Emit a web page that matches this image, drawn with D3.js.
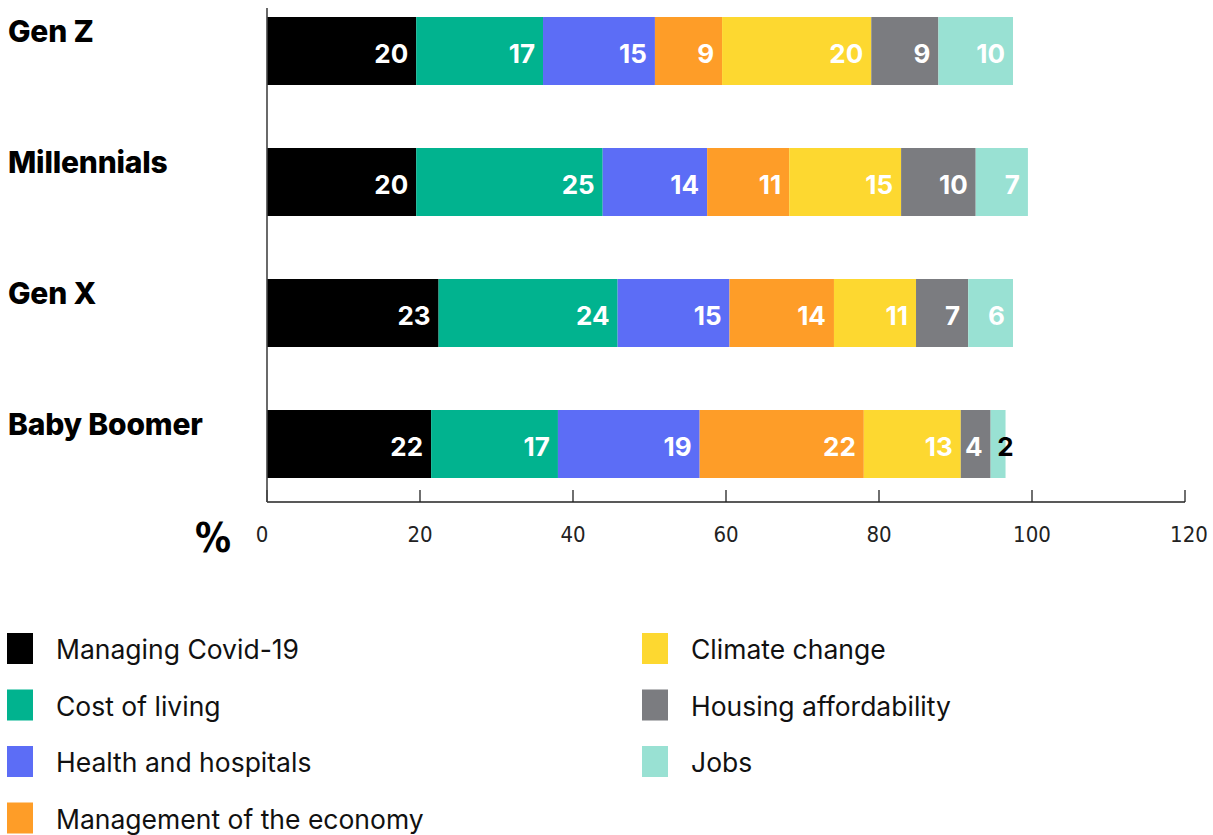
<!DOCTYPE html>
<html><head><meta charset="utf-8">
<script src="https://cdn.jsdelivr.net/npm/d3@7"></script>
<style>
html,body{margin:0;padding:0;background:#fff;}
svg{display:block;}
</style></head>
<body>
<svg id="chart" width="1213" height="835"></svg>
<script>
const generations = ["Gen Z", "Millennials", "Gen X", "Baby Boomer"];
const issues = ["Managing Covid-19", "Cost of living", "Health and hospitals", "Management of the economy", "Climate change", "Housing affordability", "Jobs"];
const colors = ["#000000", "#01B38F", "#5C6DF6", "#FE9D28", "#FDD830", "#7B7C80", "#99E1D3"];
const genZ        = [20, 17, 15, 9, 20, 9, 10];
const millennials = [20, 25, 14, 11, 15, 10, 7];
const genX        = [23, 24, 15, 14, 11, 7, 6];
const boomers     = [22, 17, 19, 22, 13, 4, 2];
const xTicks = [0, 20, 40, 60, 80, 100, 120];
const axisUnit = "%";

const seriesByGen = [genZ, millennials, genX, boomers];
const svg = d3.select("#chart");

// bar scale and axis scale (the reference's axis is drawn slightly wider than the bars)
const x = d3.scaleLinear().domain([0, 120]).range([267, 267 + 120 * 7.46]);
const xAxisScale = d3.scaleLinear().domain([0, 120]).range([267, 1185]);
const y = d3.scaleBand().domain(generations).range([17, 478]).paddingInner(0.481).paddingOuter(0);

const rows = generations.map((g, i) => {
  let cum = 0;
  return issues.map((iss, j) => {
    const v = seriesByGen[i][j];
    const seg = {gen: g, issue: iss, value: v, x0: cum, x1: cum + v, color: colors[j]};
    cum += v;
    return seg;
  });
});
const segs = rows.flat();

svg.append("g").selectAll("rect").data(segs).join("rect")
  .attr("x", d => x(d.x0))
  .attr("y", d => y(d.gen))
  .attr("width", d => x(d.x1) - x(d.x0))
  .attr("height", y.bandwidth())
  .attr("fill", d => d.color);

svg.append("g").selectAll("text").data(segs).join("text")
  .each(function(d) {
    const w = x(d.x1) - x(d.x0);
    const t = d3.select(this);
    if (w < 24) {
      t.attr("x", x(d.x1)).attr("text-anchor", "middle").attr("fill", "#000");
    } else {
      t.attr("x", x(d.x1) - 8).attr("text-anchor", "end").attr("fill", "#fff");
    }
  })
  .attr("y", d => y(d.gen) + 46)
  .attr("font-family", "Inter, sans-serif")
  .attr("font-weight", 700)
  .attr("font-size", 26)
  .text(d => d.value);

// category labels
svg.append("g").selectAll("text").data(generations).join("text")
  .attr("x", 8)
  .attr("y", d => y(d) + 25)
  .attr("font-family", "Inter, sans-serif")
  .attr("font-weight", 800)
  .attr("font-size", 30)
  .attr("letter-spacing", -0.2)
  .attr("fill", "#000")
  .text(d => d);

// axes
const axisY = 502;
const ag = svg.append("g").attr("transform", `translate(0,${axisY})`);
ag.append("line").attr("x1", 267).attr("x2", 1185).attr("y1", 0).attr("y2", 0).attr("stroke", "#222").attr("stroke-width", 1.3);
ag.selectAll("line.tk").data(xTicks).join("line").attr("class", "tk")
  .attr("x1", d => xAxisScale(d)).attr("x2", d => xAxisScale(d))
  .attr("y1", 0).attr("y2", -12).attr("stroke", "#222").attr("stroke-width", 1.3);
ag.selectAll("text.tl").data(xTicks).join("text").attr("class", "tl")
  .attr("x", d => xAxisScale(d) + (d === 0 ? -5 : 0) + (d === 120 ? 4 : 0))
  .attr("y", 40)
  .attr("text-anchor", "middle")
  .attr("font-family", "'Liberation Sans Narrow', 'DejaVu Sans Condensed', sans-serif")
  .attr("font-size", 22)
  .attr("fill", "#222")
  .text(d => d);

svg.append("line").attr("x1", 267).attr("x2", 267).attr("y1", 8).attr("y2", axisY)
  .attr("stroke", "#444").attr("stroke-width", 1.6);

svg.append("text").attr("x", 213).attr("y", 552).attr("text-anchor", "middle")
  .attr("font-family", "'Liberation Sans Narrow', 'DejaVu Sans Condensed', sans-serif")
  .attr("font-weight", 700).attr("font-size", 40).attr("fill", "#000").text(axisUnit);

// legend
const legend = svg.append("g");
const legItems = issues.map((iss, j) => ({name: iss, color: colors[j], col: j < 4 ? 0 : 1, row: j < 4 ? j : j - 4}));
const lg = legend.selectAll("g").data(legItems).join("g")
  .attr("transform", d => `translate(${d.col === 0 ? 7 : 642},${633 + d.row * 56.5})`);
lg.append("rect").attr("width", 26).attr("height", 31).attr("fill", d => d.color);
lg.append("text").attr("x", 49).attr("y", 26)
  .attr("font-family", "Inter, sans-serif").attr("font-size", 26.5).attr("fill", "#111")
  .text(d => d.name);
</script>
</body></html>
